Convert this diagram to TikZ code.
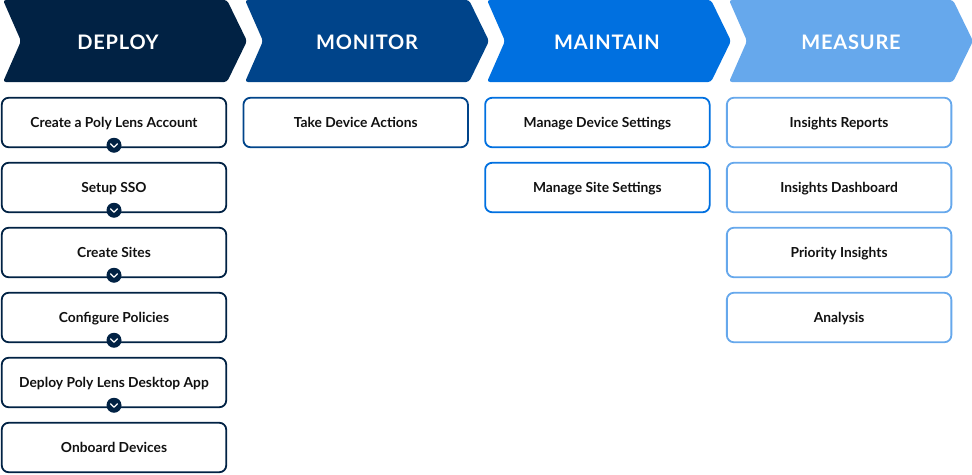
\documentclass[tikz,border=0pt]{standalone}
\usepackage{fontspec}
\setmainfont{Lato}
\newfontfamily\headfont[LetterSpace=4]{Lato}
\usetikzlibrary{positioning}

\definecolor{deployblue}{HTML}{012244}
\definecolor{monitorblue}{HTML}{00448A}
\definecolor{maintainblue}{HTML}{0070E0}
\definecolor{measureblue}{HTML}{66A8EC}
\definecolor{boxtext}{HTML}{111111}

\tikzset{
  phase/.style={rounded corners=3pt, draw=none},
  phasetext/.style={text=white, font=\headfont\bfseries\fontsize{20}{24}\selectfont},
  stepbox/.style={draw=#1, line width=1.8pt, rounded corners=7pt, fill=white,
    minimum width=224.5pt, minimum height=49.5pt, inner sep=0pt, outer sep=0pt,
    text height=10pt, text depth=0pt,
    text=boxtext, font=\bfseries\fontsize{13.8}{16}\selectfont},
  chev/.style={circle, fill=deployblue, minimum size=15pt, inner sep=0pt},
  chevline/.style={white, line width=1.3pt, line cap=round, line join=round},
  node distance=15.5pt and 17.2pt
}

\begin{document}
\begin{tikzpicture}[x=1pt, y=-1pt]
    \useasboundingbox (0,0) rectangle (972,474);

    % phase arrows
    \fill[phase, deployblue] (3,0) -- (227,0) -- (247,41) -- (227,82) -- (3,82) -- (21,41) -- cycle;
    \fill[phase, monitorblue] (245,0) -- (469,0) -- (489,41) -- (469,82) -- (245,82) -- (263,41) -- cycle;
    \fill[phase, maintainblue] (487,0) -- (711,0) -- (731,41) -- (711,82) -- (487,82) -- (505,41) -- cycle;
    \fill[phase, measureblue] (729,0) -- (953,0) -- (973,41) -- (953,82) -- (729,82) -- (747,41) -- cycle;
    \node [phasetext] (deploy) at (118,42) {DEPLOY};
    \node [phasetext] (monitor) at (367,42) {MONITOR};
    \node [phasetext] (maintain) at (607,42) {MAINTAIN};
    \node [phasetext] (measure) at (851,42) {MEASURE};

    % deploy steps
    \node [stepbox=deployblue] (d1) at (114,122.5) {Create a Poly Lens Account};
    \node [stepbox=deployblue, below=of d1] (d2) {Setup SSO};
    \node [stepbox=deployblue, below=of d2] (d3) {Create Sites};
    \node [stepbox=deployblue, below=of d3] (d4) {Configure Policies};
    \node [stepbox=deployblue, below=of d4] (d5) {Deploy Poly Lens Desktop App};
    \node [stepbox=deployblue, below=of d5] (d6) {Onboard Devices};

    % monitor steps
    \node [stepbox=monitorblue, right=of d1] (o1) {Take Device Actions};

    % maintain steps
    \node [stepbox=maintainblue, right=of o1] (a1) {Manage Device Settings};
    \node [stepbox=maintainblue, below=of a1] (a2) {Manage Site Settings};

    % measure steps
    \node [stepbox=measureblue, right=of a1] (m1) {Insights Reports};
    \node [stepbox=measureblue, below=of m1] (m2) {Insights Dashboard};
    \node [stepbox=measureblue, below=of m2] (m3) {Priority Insights};
    \node [stepbox=measureblue, below=of m3] (m4) {Analysis};

    % chevrons between deploy steps
    \node [chev] (c1) at ([yshift=2pt]d1.south) {};
    \node [chev] (c2) at ([yshift=2pt]d2.south) {};
    \node [chev] (c3) at ([yshift=2pt]d3.south) {};
    \node [chev] (c4) at ([yshift=2pt]d4.south) {};
    \node [chev] (c5) at ([yshift=2pt]d5.south) {};
    \draw [chevline] ([shift={(-3.5,-1.5)}]c1.center) -- ([shift={(0,2)}]c1.center) -- ([shift={(3.5,-1.5)}]c1.center);
    \draw [chevline] ([shift={(-3.5,-1.5)}]c2.center) -- ([shift={(0,2)}]c2.center) -- ([shift={(3.5,-1.5)}]c2.center);
    \draw [chevline] ([shift={(-3.5,-1.5)}]c3.center) -- ([shift={(0,2)}]c3.center) -- ([shift={(3.5,-1.5)}]c3.center);
    \draw [chevline] ([shift={(-3.5,-1.5)}]c4.center) -- ([shift={(0,2)}]c4.center) -- ([shift={(3.5,-1.5)}]c4.center);
    \draw [chevline] ([shift={(-3.5,-1.5)}]c5.center) -- ([shift={(0,2)}]c5.center) -- ([shift={(3.5,-1.5)}]c5.center);
  \end{tikzpicture}
\end{document}
